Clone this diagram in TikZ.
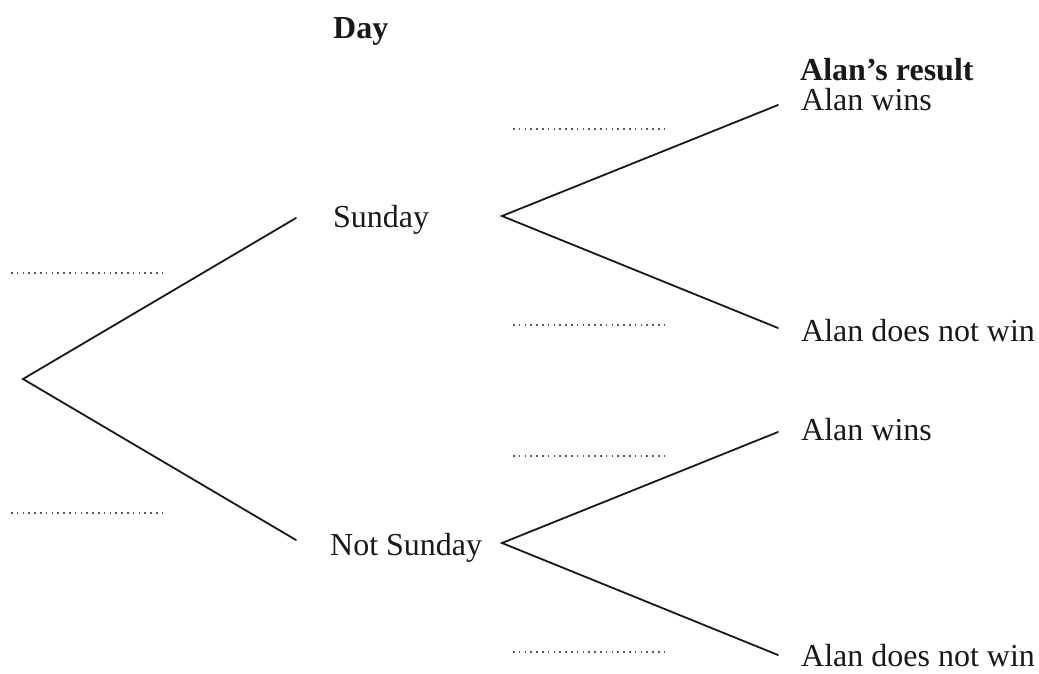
\documentclass[tikz,border=0pt]{standalone}
\usepackage{fontspec}
\setmainfont{Liberation Serif}
\begin{document}
\begin{tikzpicture}[x=1pt,y=-1pt,
  branch/.style={line width=1.8pt,line cap=round,color=black!90},
  blank/.style={line width=1.6pt,color=black!65,dash pattern=on 1.6pt off 4.2pt},
  lbl/.style={inner sep=0pt,anchor=base west,font=\fontsize{32}{38}\selectfont,text=black!90},
  head/.style={lbl,font=\fontsize{32}{38}\selectfont\bfseries}]
\useasboundingbox (0,0) rectangle (1039,673);
% headers
\node[head] (hday) at (333,38) {Day};
\node[head] (hres) at (800,80) {Alan’s result};
% tree points
\coordinate (root) at (23,379);
\coordinate (s1) at (296,218);
\coordinate (n1) at (296,540);
\coordinate (s2) at (502,216);
\coordinate (n2) at (502,543);
\coordinate (sw) at (778,105);
\coordinate (sl) at (778,328);
\coordinate (nw) at (778,432);
\coordinate (nl) at (778,655);
% labels
\node[lbl] (sun) at (333,227) {Sunday};
\node[lbl] (nsun) at (330,555) {Not Sunday};
\node[lbl] (aw1) at (801,110) {Alan wins};
\node[lbl] (al1) at (801,341) {Alan does not win};
\node[lbl] (aw2) at (801,440) {Alan wins};
\node[lbl] (al2) at (801,666) {Alan does not win};
% branches
\draw[branch] (s1) -- (root) -- (n1);
\draw[branch] (sw) -- (s2) -- (sl);
\draw[branch] (nw) -- (n2) -- (nl);
% answer blanks
\coordinate (b1a) at (11,273); \coordinate (b1b) at (164,273);
\coordinate (b2a) at (11,513); \coordinate (b2b) at (164,513);
\coordinate (b3a) at (513,129); \coordinate (b3b) at (667,129);
\coordinate (b4a) at (513,325); \coordinate (b4b) at (667,325);
\coordinate (b5a) at (513,456); \coordinate (b5b) at (667,456);
\coordinate (b6a) at (513,652); \coordinate (b6b) at (667,652);
\draw[blank] (b1a) -- (b1b);
\draw[blank] (b2a) -- (b2b);
\draw[blank] (b3a) -- (b3b);
\draw[blank] (b4a) -- (b4b);
\draw[blank] (b5a) -- (b5b);
\draw[blank] (b6a) -- (b6b);
\end{tikzpicture}
\end{document}
